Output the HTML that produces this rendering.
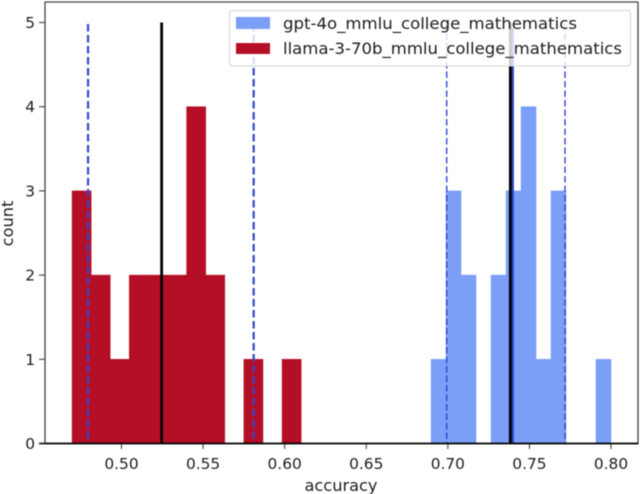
<!DOCTYPE html>
<html>
<head>
<meta charset="utf-8">
<style>
html,body{margin:0;padding:0;background:#fff;width:640px;height:494px;overflow:hidden}
svg{display:block;filter:blur(0.5px)}
text{font-family:"DejaVu Sans",sans-serif;fill:#1c1c1c}
</style>
</head>
<body>
<svg id="chart" width="640" height="494" viewBox="0 0 640 494" xmlns="http://www.w3.org/2000/svg">
  <g id="bars"></g>
  <g id="lines"></g>
  <g id="axes"></g>
  <text x="341" y="491" font-size="16.2" text-anchor="middle">accuracy</text>
  <text transform="translate(13,223.5) rotate(-90)" font-size="16.2" text-anchor="middle">count</text>
  <g>
    <rect x="229.5" y="10.5" width="401" height="55.5" rx="3" fill="#ffffff" fill-opacity="0.8" stroke="#d4d4d4" stroke-width="1"></rect>
    <rect x="236" y="17" width="34" height="12" fill="#7b9ef7"></rect>
    <text x="283" y="29" font-size="16.2" textLength="294" lengthAdjust="spacingAndGlyphs">gpt-4o_mmlu_college_mathematics</text>
    <rect x="236" y="43" width="34" height="11" fill="#b40f26"></rect>
    <text x="283" y="54" font-size="16.2" textLength="339" lengthAdjust="spacingAndGlyphs">llama-3-70b_mmlu_college_mathematics</text>
  </g>
</svg>
<script>
var redCounts = [3, 2, 1, 2, 2, 2, 4, 2, 0, 1, 0, 1];
var redRange = [0.4697, 0.6101];
var blueCounts = [1, 3, 2, 0, 2, 3, 4, 1, 3, 0, 0, 1];
var blueRange = [0.6897, 0.8];
var solidValues = [0.5246, 0.7383];
var blueMeanValue = [0.7397];
var dashedValues = [0.4795, 0.581, 0.6993, 0.7718];
var xTickValues = [0.50, 0.55, 0.60, 0.65, 0.70, 0.75, 0.80];
var xTickLabels = ["0.50", "0.55", "0.60", "0.65", "0.70", "0.75", "0.80"];
var yTickValues = [0, 1, 2, 3, 4, 5];
var yTickLabels = ["0", "1", "2", "3", "4", "5"];

var NS = 'http://www.w3.org/2000/svg';
function xScale(v) { return 121.5 + (v - 0.5) * 1631.7; }
function yScale(v) { return 443.5 - v * 84.2; }
function make(parent, tag, attrs) {
  var el = document.createElementNS(NS, tag);
  for (var k in attrs) el.setAttribute(k, attrs[k]);
  parent.appendChild(el);
  return el;
}
var barsG = document.getElementById('bars');
var linesG = document.getElementById('lines');
var axesG = document.getElementById('axes');

function drawHist(counts, range, color, name) {
  var w = (range[1] - range[0]) / counts.length;
  counts.forEach(function (c, i) {
    var x0 = xScale(range[0] + i * w);
    var x1 = xScale(range[0] + (i + 1) * w);
    var r = make(barsG, 'rect', { x: x0, y: yScale(c), width: x1 - x0, height: yScale(0) - yScale(c), fill: color, stroke: color, 'stroke-width': c > 0 ? 0.5 : 0 });
    
    
  });
}
drawHist(blueCounts, blueRange, '#7b9ef7', 'gpt-4o');
drawHist(redCounts, redRange, '#b40f26', 'llama');

dashedValues.forEach(function (v, i) {
  var wide = i < 2;
  var l = make(linesG, 'line', { x1: xScale(v), x2: xScale(v), y1: 24, y2: yScale(0), stroke: '#3346cc', 'stroke-width': wide ? 2.2 : 1.4, 'stroke-dasharray': wide ? '7.5 3.5' : '6.5 3' });
  
  
});
blueMeanValue.forEach(function (v) {
  var l = make(linesG, 'line', { x1: xScale(v), x2: xScale(v), y1: 28, y2: yScale(0), stroke: '#2f45c8', 'stroke-width': 2.6 });
  
  
});
solidValues.forEach(function (v) {
  var l = make(linesG, 'line', { x1: xScale(v), x2: xScale(v), y1: yScale(5), y2: yScale(0), stroke: '#000', 'stroke-width': 2.8 });
  
  
});

var spines = [
  ['spine-left', 45, 2, 45, 443, '#444', 1.3],
  ['spine-top', 44.5, 2, 638.5, 2, '#444', 1.3],
  ['spine-right', 638, 2, 638, 443, '#444', 1.3],
  ['spine-bottom', 39, 443.5, 638.5, 443.5, '#000', 1.8]
];
spines.forEach(function (s) {
  var l = make(axesG, 'line', { x1: s[1], y1: s[2], x2: s[3], y2: s[4], stroke: s[5], 'stroke-width': s[6] });
  
  
});
xTickValues.forEach(function (v, i) {
  var x = xScale(v);
  var t = make(axesG, 'line', { x1: x, x2: x, y1: 444, y2: 449, stroke: '#333', 'stroke-width': 1 });
  
  
  var lb = make(axesG, 'text', { x: x, y: 469, 'font-size': 15.4, 'text-anchor': 'middle' });
  
  
  lb.textContent = xTickLabels[i];
});
yTickValues.forEach(function (v, i) {
  var y = yScale(v);
  var t = make(axesG, 'line', { x1: 39, x2: 45, y1: y, y2: y, stroke: '#333', 'stroke-width': 1 });
  
  
  var lb = make(axesG, 'text', { x: 35, y: y + 5.5, 'font-size': 15.4, 'text-anchor': 'end' });
  
  
  lb.textContent = yTickLabels[i];
});
</script>
</body>
</html>
